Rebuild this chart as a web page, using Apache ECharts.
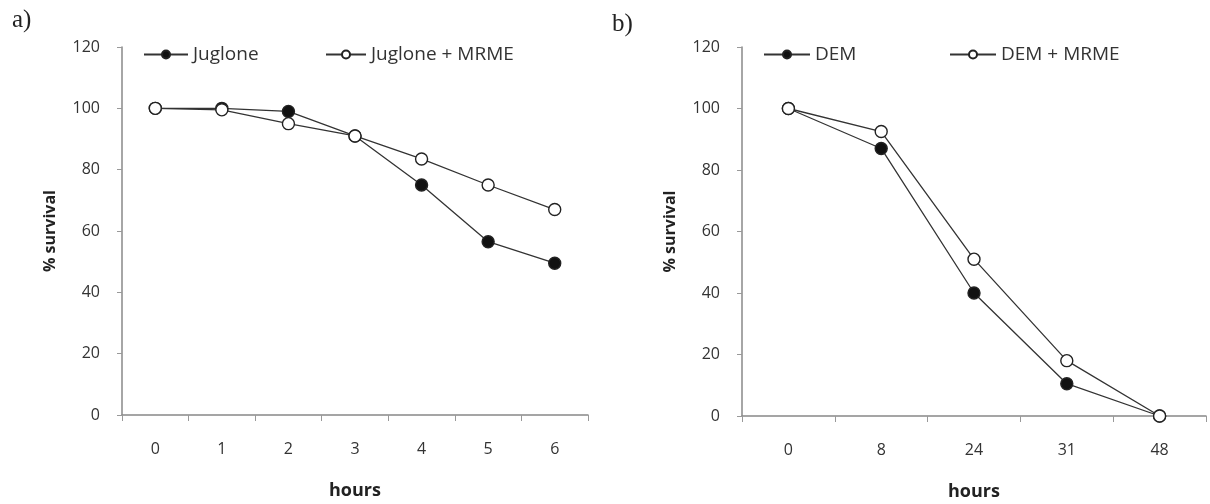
<!DOCTYPE html>
<html>
<head>
<meta charset="utf-8">
<script src="https://cdn.jsdelivr.net/npm/echarts@6/dist/echarts.min.js"></script>
<style>
  html, body { margin: 0; padding: 0; background: #fff; }
  #chart { width: 1210px; height: 504px; }
</style>
</head>
<body>
<div id="chart"></div>
<script>
// panel a data
const hoursA = ['0', '1', '2', '3', '4', '5', '6'];
const juglone = [100, 100, 99, 91, 75, 56.5, 49.5];
const jugloneMrme = [100, 99.5, 95, 91, 83.5, 75, 67];

// panel b data
const hoursB = ['0', '8', '24', '31', '48'];
const dem = [100, 87, 40, 10.5, 0];
const demMrme = [100, 92.5, 51, 18, 0];

const yTicks = [0, 20, 40, 60, 80, 100, 120];

const font = 'Open Sans, sans-serif';
const ink = '#222';

const chart = echarts.init(document.getElementById('chart'));

function xAxis(idx, data) {
    return {
        type: 'category',
        gridIndex: idx,
        data: data,
        boundaryGap: true,
        name: 'hours',
        nameLocation: 'middle',
        nameGap: 67,
        nameTextStyle: { fontFamily: font, fontSize: 18, fontWeight: 'bold', color: ink },
        axisLine: { lineStyle: { color: '#888', width: 1.5 } },
        axisTick: { show: true, alignWithLabel: false, length: 6, lineStyle: { color: '#999' } },
        axisLabel: { margin: 26, fontFamily: font, fontSize: 16, color: '#333' },
        splitLine: { show: false }
    };
}

function yAxis(idx) {
    return {
        type: 'value',
        gridIndex: idx,
        min: yTicks[0],
        max: yTicks[yTicks.length - 1],
        interval: 20,
        name: '% survival',
        nameLocation: 'middle',
        nameRotate: 90,
        nameGap: 64,
        nameTextStyle: { fontFamily: font, fontSize: 16, fontWeight: 'bold', color: ink },
        axisLine: { show: true, lineStyle: { color: '#888', width: 1.5 } },
        axisTick: { show: true, length: 5, lineStyle: { color: '#999' } },
        axisLabel: { margin: 22, fontFamily: font, fontSize: 16, color: '#333' },
        splitLine: { show: false }
    };
}

function lineSeries(name, idx, data, filled) {
    return {
        name: name,
        type: 'line',
        xAxisIndex: idx,
        yAxisIndex: idx,
        data: data,
        symbol: 'circle',
        symbolSize: 12,
        showAllSymbol: true,
        lineStyle: { color: '#333', width: 1.3 },
        itemStyle: {
            color: filled ? '#111' : '#fff',
            borderColor: '#222',
            borderWidth: 1.4
        },
        z: filled ? 2 : 3
    };
}

function legend(name, left, width) {
    return {
        data: [name],
        left: left,
        top: 40,
        itemWidth: width,
        itemHeight: 10,
        itemGap: 0,
        textStyle: { fontFamily: font, fontSize: 19, color: '#333' }
    };
}

const option = {
    animation: false,
    backgroundColor: '#fff',
    grid: [
        { left: 122, right: 622, top: 47, bottom: 89, outerBoundsMode: 'none' },
        { left: 742, right: 4, top: 47, bottom: 88, outerBoundsMode: 'none' }
    ],
    xAxis: [xAxis(0, hoursA), xAxis(1, hoursB)],
    yAxis: [yAxis(0), yAxis(1)],
    legend: [
        legend('Juglone', 138, 44),
        legend('Juglone + MRME', 320, 40),
        legend('DEM', 758, 46),
        legend('DEM + MRME', 944, 46)
    ],
    graphic: [
        { type: 'text', left: 12, top: 8, style: { text: 'a)', font: '25px "Liberation Serif", serif', fill: ink } },
        { type: 'text', left: 612, top: 12, style: { text: 'b)', font: '25px "Liberation Serif", serif', fill: ink } }
    ],
    series: [
        lineSeries('Juglone', 0, juglone, true),
        lineSeries('Juglone + MRME', 0, jugloneMrme, false),
        lineSeries('DEM', 1, dem, true),
        lineSeries('DEM + MRME', 1, demMrme, false)
    ]
};

chart.setOption(option);
</script>
</body>
</html>
